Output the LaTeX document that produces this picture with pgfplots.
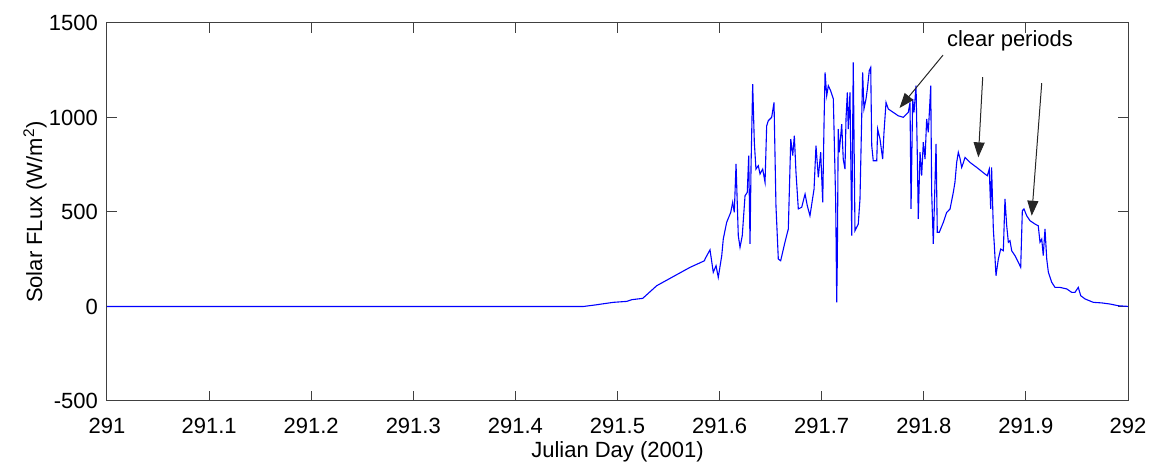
\documentclass[border=0pt]{standalone}
\usepackage{fontspec}
\setmainfont{Liberation Sans}
\usepackage{pgfplots}
\pgfplotsset{compat=1.18}
\usepackage{pgfplotstable}
\usetikzlibrary{arrows.meta}

\pgfplotstableread{
x y
291.0000 0
291.4603 0
291.4665 0
291.4780 8
291.4959 22
291.5090 27
291.5139 36
291.5247 43
291.5384 110
291.5710 207
291.5852 242
291.5857 251
291.5906 300
291.5938 181
291.5965 216
291.5987 154
291.6021 269
291.6036 357
291.6069 445
291.6109 498
291.6128 551
291.6144 498
291.6161 754
291.6183 375
291.6200 313
291.6222 375
291.6249 586
291.6271 604
291.6285 798
291.6298 331
291.6308 745
291.6324 1177
291.6340 869
291.6356 727
291.6379 745
291.6396 701
291.6422 727
291.6445 657
291.6461 956
291.6477 983
291.6510 1001
291.6533 1080
291.6552 533
291.6575 251
291.6598 242
291.6640 340
291.6673 410
291.6697 886
291.6716 798
291.6732 904
291.6748 710
291.6771 516
291.6804 525
291.6837 595
291.6859 533
291.6885 480
291.6925 621
291.6944 851
291.6967 683
291.6990 816
291.7010 551
291.7023 974
291.7033 1239
291.7049 1115
291.7065 1168
291.7088 1141
291.7114 1098
291.7137 551
291.7147 22
291.7153 251
291.7162 939
291.7172 816
291.7196 965
291.7211 780
291.7228 727
291.7238 992
291.7251 1133
291.7260 939
291.7277 1133
291.7294 375
291.7309 1292
291.7326 401
291.7358 436
291.7375 569
291.7401 1239
291.7414 1045
291.7434 1098
291.7447 1151
291.7466 1248
291.7480 1265
291.7490 851
291.7505 771
291.7539 771
291.7548 939
291.7571 886
291.7597 780
291.7610 921
291.7630 1080
291.7652 1045
291.7701 1027
291.7750 1009
291.7799 1001
291.7848 1027
291.7865 1080
291.7875 516
291.7891 1098
291.7904 1027
291.7924 1168
291.7937 780
291.7946 463
291.7963 816
291.7979 692
291.7995 869
291.8012 780
291.8028 992
291.8044 921
291.8068 1168
291.8077 604
291.8093 331
291.8120 860
291.8132 393
291.8152 393
291.8191 445
291.8224 498
291.8257 516
291.8289 604
291.8305 657
291.8322 762
291.8338 816
291.8354 785
291.8371 736
291.8387 760
291.8404 789
291.8453 762
291.8518 736
291.8599 701
291.8622 692
291.8641 727
291.8655 516
291.8664 736
291.8681 410
291.8690 331
291.8707 163
291.8730 251
291.8753 304
291.8779 295
291.8795 569
291.8812 427
291.8828 340
291.8844 348
291.8861 295
291.8893 269
291.8926 234
291.8949 207
291.8965 507
291.8981 516
291.9008 480
291.9040 454
291.9089 436
291.9121 427
291.9138 340
291.9155 357
291.9170 269
291.9187 410
291.9204 251
291.9220 181
291.9253 128
291.9285 101
291.9334 101
291.9400 93
291.9448 75
291.9481 75
291.9513 101
291.9537 57
291.9579 40
291.9660 22
291.9742 19
291.9824 13
291.9905 4
291.9987 1
292.0000 0
}\fluxdata

\begin{document}
\begin{tikzpicture}
\useasboundingbox (-53.5pt,-37pt) rectangle (522pt,200.5pt);
\begin{axis}[
  scale only axis,
  width=510.5pt, height=189pt,
  xmin=291, xmax=292, ymin=-500, ymax=1500,
  xtick={291,291.1,...,292.05},
  ytick={-500,0,500,1000,1500},
  xticklabels={291,291.1,291.2,291.3,291.4,291.5,291.6,291.7,291.8,291.9,292},
  yticklabels={-500,0,500,1000,1500},
  tick align=inside,
  major tick length=5pt,
  axis line style={black!75, line width=0.5pt},
  every tick/.style={black!75, line width=0.5pt},
  ticklabel style={font=\fontsize{11}{13}\selectfont},
  xticklabel style={yshift=-5pt},
  yticklabel style={xshift=-1pt},
  label style={font=\fontsize{11}{13}\selectfont},
  xlabel={Julian Day (2001)},
  ylabel={Solar FLux (W/m\textsuperscript{2})},
  xlabel style={at={(axis description cs:0.5,-0.135)}, anchor=center},
  ylabel style={at={(axis description cs:-0.0705,0.5)}, anchor=center},
  clip=true,
]
\addplot[color={rgb,255:red,0;green,0;blue,255}, line width=0.55pt] table[x=x,y=y] {\fluxdata};
\node[font=\fontsize{11}{13}\selectfont, anchor=center] at (axis cs:291.8844,1404) {clear periods};
\draw[black!85, line width=0.5pt, -{Triangle[length=7.5pt,width=5.5pt]}] (axis cs:291.8188,1330) -- (axis cs:291.7762,1050);
\draw[black!85, line width=0.5pt, -{Triangle[length=7.5pt,width=5.5pt]}] (axis cs:291.8577,1214) -- (axis cs:291.8534,789);
\draw[black!85, line width=0.5pt, -{Triangle[length=7.5pt,width=5.5pt]}] (axis cs:291.9155,1182) -- (axis cs:291.9057,480);
\end{axis}
\end{tikzpicture}
\end{document}
